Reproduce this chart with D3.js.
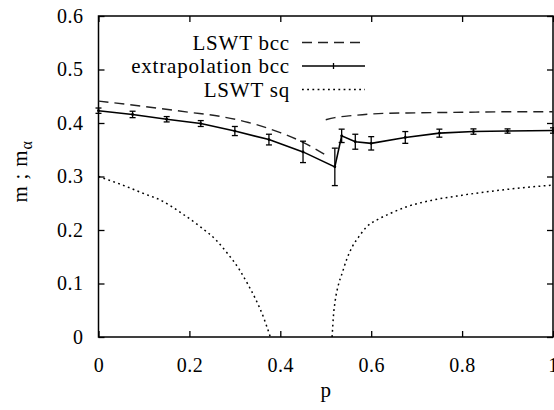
<!DOCTYPE html>
<html>
<head>
<meta charset="utf-8">
<script src="https://cdn.jsdelivr.net/npm/d3@7"></script>
<style>
	body { margin: 0; background: #fff; }
	svg text { font-family: "Liberation Serif", "Times New Roman", Tinos, "Nimbus Roman", FreeSerif, "DejaVu Serif", "Noto Serif", serif; fill: #000; }
</style>
</head>
<body>
<svg id="chart" width="554" height="410"></svg>
<script>
// extrapolation bcc (with error bars)
var extrapP   = [0, 0.075, 0.15, 0.225, 0.3, 0.375, 0.45, 0.52, 0.535, 0.565, 0.6, 0.675, 0.75, 0.825, 0.9, 1.0];
var extrapM   = [0.423, 0.416, 0.407, 0.399, 0.385, 0.369, 0.346, 0.318, 0.376, 0.365, 0.362, 0.373, 0.381, 0.384, 0.385, 0.386];
var extrapErr = [0.005, 0.006, 0.005, 0.0055, 0.0085, 0.010, 0.020, 0.035, 0.0125, 0.014, 0.0125, 0.011, 0.0075, 0.005, 0.004, 0.005];

// LSWT bcc, two branches
var bccLowP  = [0, 0.1, 0.2, 0.27, 0.33, 0.4, 0.45, 0.5];
var bccLowM  = [0.441, 0.431, 0.420, 0.412, 0.401, 0.382, 0.364, 0.340];
var bccHighP = [0.5, 0.52, 0.56, 0.63, 0.7, 0.8, 0.9, 1.0];
var bccHighM = [0.406, 0.410, 0.414, 0.418, 0.419, 0.420, 0.421, 0.421];

// LSWT sq, two branches
var sqLowP  = [0, 0.05, 0.1, 0.136, 0.18, 0.224, 0.26, 0.283, 0.31, 0.327, 0.345, 0.363, 0.378];
var sqLowM  = [0.300, 0.285, 0.268, 0.256, 0.233, 0.206, 0.180, 0.157, 0.126, 0.101, 0.072, 0.037, 0];
var sqHighP = [0.514, 0.517, 0.521, 0.528, 0.536, 0.546, 0.558, 0.575, 0.59, 0.615, 0.642, 0.68, 0.736, 0.8, 0.9, 1.0];
var sqHighM = [0, 0.040, 0.069, 0.098, 0.119, 0.145, 0.168, 0.190, 0.206, 0.220, 0.231, 0.244, 0.256, 0.265, 0.276, 0.284];

var xTicks = [0, 0.2, 0.4, 0.6, 0.8, 1];
var yTicks = [0, 0.1, 0.2, 0.3, 0.4, 0.5, 0.6];
var legendLabels = ['LSWT bcc', 'extrapolation bcc', 'LSWT sq'];

(function () {
	var plotL = 98.5, plotR = 553, plotT = 16, plotB = 337;

	var svg = d3.select('#chart');
	var x = d3.scaleLinear().domain([0, 1]).range([plotL, plotR]);
	var y = d3.scaleLinear().domain([0, 0.6]).range([plotB, plotT]);

	function zip(px, py) {
		return px.map(function (p, i) { return [p, py[i]]; });
	}

	var line = d3.line()
		.x(function (d) { return x(d[0]); })
		.y(function (d) { return y(d[1]); });
	var smooth = d3.line()
		.x(function (d) { return x(d[0]); })
		.y(function (d) { return y(d[1]); })
		.curve(d3.curveMonotoneX);

	// axes, gnuplot style: inward ticks mirrored on all sides
	var tickLen = 6;
	function noDomain(g) {
		g.attr('font-family', null).attr('font-size', null);
		g.select('.domain').remove();
	}

	svg.append('g')
		.attr('transform', 'translate(0,' + plotB + ')')
		.call(d3.axisBottom(x).tickValues(xTicks).tickSizeInner(-tickLen).tickSizeOuter(0).tickPadding(21).tickFormat(d3.format('')))
		.call(noDomain);
	svg.append('g')
		.attr('transform', 'translate(0,' + plotT + ')')
		.call(d3.axisTop(x).tickValues(xTicks).tickSizeInner(-tickLen).tickSizeOuter(0).tickFormat(''))
		.call(noDomain);
	svg.append('g')
		.attr('transform', 'translate(' + plotL + ',0)')
		.call(d3.axisLeft(y).tickValues(yTicks).tickSizeInner(-tickLen).tickSizeOuter(0).tickPadding(15).tickFormat(d3.format('')))
		.call(noDomain);
	svg.append('g')
		.attr('transform', 'translate(' + plotR + ',0)')
		.call(d3.axisRight(y).tickValues(yTicks).tickSizeInner(-tickLen).tickSizeOuter(0).tickFormat(''))
		.call(noDomain);

	svg.selectAll('.tick line').attr('stroke', '#000').attr('stroke-width', 1.3);
	svg.selectAll('.tick text')
		.attr('font-size', 20)
		.attr('letter-spacing', 0.5)
		.attr('fill', '#000');

	svg.append('rect')
		.attr('x', plotL).attr('y', plotT)
		.attr('width', plotR - plotL).attr('height', plotB - plotT)
		.attr('fill', 'none').attr('stroke', '#000').attr('stroke-width', 1.5);

	// axis titles
	svg.append('text')
		.attr('x', x(0.5)).attr('y', 397)
		.attr('text-anchor', 'middle')
		.attr('font-size', 21)
		.text('p');

	var ylab = svg.append('text')
		.attr('transform', 'translate(27,' + (y(0.3) - 5) + ') rotate(-90)')
		.attr('text-anchor', 'middle')
		.attr('font-size', 21)
		.attr('letter-spacing', 0.8);
	ylab.append('tspan').text('m ; m');
	ylab.append('tspan').attr('font-size', 16).attr('dy', 5).text('α');

	// LSWT bcc, dashed
	var dashStyle = '10,6';
	[zip(bccLowP, bccLowM), zip(bccHighP, bccHighM)].forEach(function (branch) {
		svg.append('path')
			.attr('d', smooth(branch))
			.attr('fill', 'none').attr('stroke', '#222')
			.attr('stroke-width', 1.4)
			.attr('stroke-dasharray', dashStyle);
	});

	// LSWT sq, dotted
	var dotStyle = '1.8,3.4';
	[zip(sqLowP, sqLowM), zip(sqHighP, sqHighM)].forEach(function (branch) {
		svg.append('path')
			.attr('d', smooth(branch))
			.attr('fill', 'none').attr('stroke', '#000')
			.attr('stroke-width', 1.5)
			.attr('stroke-dasharray', dotStyle);
	});

	// extrapolation bcc, solid with error bars
	var pts = extrapP.map(function (p, i) { return { p: p, m: extrapM[i], e: extrapErr[i] }; });
	svg.append('path')
		.attr('d', line(pts.map(function (d) { return [d.p, d.m]; })))
		.attr('fill', 'none').attr('stroke', '#000').attr('stroke-width', 1.6);

	var cap = 3;
	var bars = svg.append('g').attr('stroke', '#000').attr('stroke-width', 1.3);
	pts.forEach(function (d) {
		var cx = x(d.p), y0 = y(d.m - d.e), y1 = y(d.m + d.e);
		bars.append('line').attr('x1', cx).attr('x2', cx).attr('y1', y0).attr('y2', y1);
		bars.append('line').attr('x1', cx - cap).attr('x2', cx + cap).attr('y1', y0).attr('y2', y0);
		bars.append('line').attr('x1', cx - cap).attr('x2', cx + cap).attr('y1', y1).attr('y2', y1);
		bars.append('circle').attr('cx', cx).attr('cy', y(d.m)).attr('r', 1.4).attr('fill', '#000').attr('stroke', 'none');
	});

	// legend
	var legend = svg.append('g');
	var rowY = [42.5, 66, 89.5];
	var textRight = 290, sampleX0 = 302, sampleX1 = 365;
	legendLabels.forEach(function (label, i) {
		legend.append('text')
			.attr('x', textRight).attr('y', rowY[i])
			.attr('dy', '0.35em')
			.attr('text-anchor', 'end')
			.attr('font-size', 21)
			.attr('letter-spacing', 0.8)
			.text(label);
	});
	legend.append('line')
		.attr('x1', sampleX0).attr('x2', sampleX1).attr('y1', rowY[0]).attr('y2', rowY[0])
		.attr('stroke', '#222').attr('stroke-width', 1.4).attr('stroke-dasharray', dashStyle);
	legend.append('line')
		.attr('x1', sampleX0).attr('x2', sampleX1).attr('y1', rowY[1]).attr('y2', rowY[1])
		.attr('stroke', '#000').attr('stroke-width', 1.6);
	legend.append('line')
		.attr('x1', (sampleX0 + sampleX1) / 2).attr('x2', (sampleX0 + sampleX1) / 2)
		.attr('y1', rowY[1] - 3).attr('y2', rowY[1] + 3)
		.attr('stroke', '#000').attr('stroke-width', 1.3);
	legend.append('line')
		.attr('x1', sampleX0).attr('x2', sampleX1).attr('y1', rowY[2]).attr('y2', rowY[2])
		.attr('stroke', '#000').attr('stroke-width', 1.5).attr('stroke-dasharray', dotStyle);
})();
</script>
</body>
</html>
